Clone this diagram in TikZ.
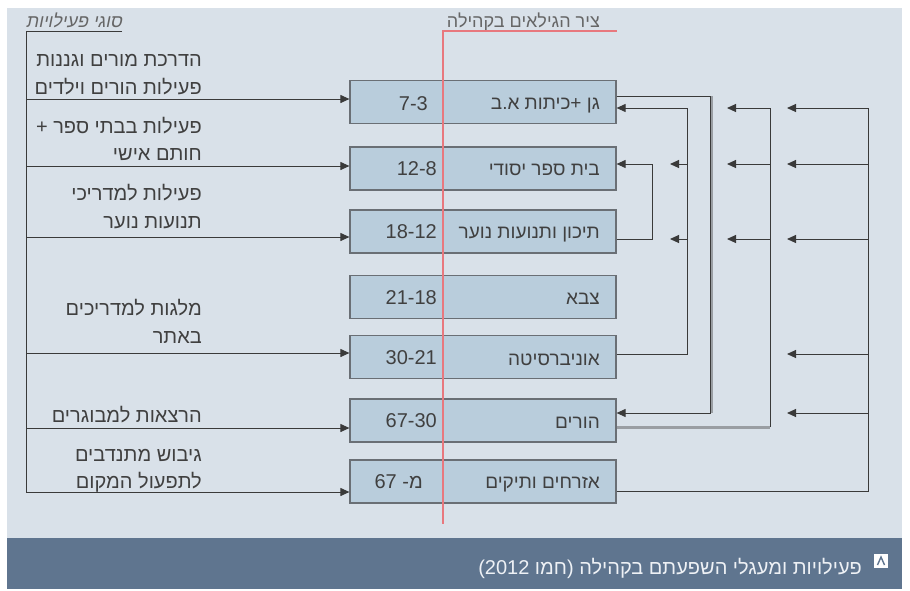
\documentclass[tikz,border=0pt]{standalone}
\usepackage{fontspec}
\setmainfont{Liberation Sans}
\newfontfamily\hebfont[Script=Hebrew]{Liberation Sans}
\newfontfamily\hebslfont[Script=Hebrew,FakeSlant=0.2]{Liberation Sans}
\TeXXeTstate=1
\usetikzlibrary{arrows.meta}
\definecolor{panelbg}{HTML}{D9E1E9}
\definecolor{boxfill}{HTML}{B9CDDC}
\definecolor{boxline}{HTML}{6A6F75}
\definecolor{capbar}{HTML}{5F758F}
\definecolor{captxt}{HTML}{EEF1F5}
\definecolor{inkgray}{HTML}{404040}
\definecolor{linegray}{HTML}{3A3A3A}
\definecolor{softgray}{HTML}{9A9EA3}
\definecolor{axisred}{HTML}{E8787E}
\newcommand{\hebtext}[1]{{\hebfont\beginR #1\endR}}
\newcommand{\hebsltext}[1]{{\hebslfont\beginR #1\endR}}
\tikzset{
  agebox/.style={draw=boxline, line width=1.2pt, fill=boxfill, minimum width=266pt, minimum height=43pt, inner sep=0pt},
  lbl/.style={inner sep=0pt, anchor=base east, text=inkgray, font=\fontsize{20}{22}\selectfont},
  boxlbl/.style={inner sep=0pt, anchor=base east, text=inkgray, font=\fontsize{19}{21}\selectfont},
  numlbl/.style={inner sep=0pt, anchor=base east, text=inkgray, font=\fontsize{20}{22}\selectfont},
  headlbl/.style={inner sep=0pt, anchor=base east, text=inkgray!80, font=\fontsize{18}{20}\selectfont},
  conn/.style={draw=linegray, line width=1pt},
  thickgray/.style={draw=softgray, line width=3pt},
  arr/.style={conn, -{Triangle[length=9pt,width=8pt]}},
}
\begin{document}
\begin{tikzpicture}[x=1pt,y=-1pt]
\useasboundingbox (0,0) rectangle (910,590);
\fill[white] (0,0) rectangle (910,590);
\fill[panelbg] (7,8) rectangle (902,538);
\fill[capbar] (7,538) rectangle (902,589);

% headers
\node[headlbl] (h1) at (122,27) {\hebsltext{סוגי פעילויות}};
\node[headlbl] (h2) at (600,27) {\hebtext{ציר הגילאים בקהילה}};

% boxes
\node[agebox] (b1) at (483,102) {};
\node[agebox] (b2) at (483,168.5) {};
\node[agebox] (b3) at (483,231.5) {};
\node[agebox] (b4) at (483,297) {};
\node[agebox] (b5) at (483,357) {};
\node[agebox] (b6) at (483,420.5) {};
\node[agebox] (b7) at (483,481.5) {};

% numbers
\node[numlbl] (n1) at (428,110) {7-3};
\node[numlbl] (n2) at (437,175) {12-8};
\node[numlbl] (n3) at (437,238) {18-12};
\node[numlbl] (n4) at (437,304) {21-18};
\node[numlbl] (n5) at (437,364) {30-21};
\node[numlbl] (n6) at (437,427) {67-30};
\node[numlbl] (n7) at (423,488) {67 -\hebtext{מ}};

% names
\node[boxlbl] (m1) at (600,109) {\hebtext{גן +כיתות א.ב}};
\node[boxlbl] (m2) at (600,175) {\hebtext{בית ספר יסודי}};
\node[boxlbl] (m3) at (600,238) {\hebtext{תיכון ותנועות נוער}};
\node[boxlbl] (m4) at (600,304) {\hebtext{צבא}};
\node[boxlbl] (m5) at (600,365) {\hebtext{אוניברסיטה}};
\node[boxlbl] (m6) at (600,428) {\hebtext{הורים}};
\node[boxlbl] (m7) at (600,488) {\hebtext{אזרחים ותיקים}};

% left labels
\node[lbl] (t1) at (202,66) {\hebtext{הדרכת מורים וגננות}};
\node[lbl] (t2) at (202,94) {\hebtext{פעילות הורים וילדים}};
\node[lbl] (t3) at (202,133) {\hebtext{פעילות בבתי ספר +}};
\node[lbl] (t4) at (202,160) {\hebtext{חותם אישי}};
\node[lbl] (t5) at (202,200) {\hebtext{פעילות למדריכי}};
\node[lbl] (t6) at (202,228) {\hebtext{תנועות נוער}};
\node[lbl] (t7) at (202,315) {\hebtext{מלגות למדריכים}};
\node[lbl] (t8) at (202,343) {\hebtext{באתר}};
\node[lbl] (t9) at (202,422) {\hebtext{הרצאות למבוגרים}};
\node[lbl] (t10) at (202,461) {\hebtext{גיבוש מתנדבים}};
\node[lbl] (t11) at (202,488) {\hebtext{לתפעול המקום}};

% left connectors
\coordinate (L0) at (26,31);
\coordinate (L1) at (26,99);
\coordinate (L2) at (26,166);
\coordinate (L3) at (26,237);
\coordinate (L5) at (26,353);
\coordinate (L6) at (26,428);
\coordinate (L7) at (26,492);
\draw[conn] (L0 -| h1.east) -- (L0) -- (L7);
\draw[arr] (L1) -- (L1 -| b1.west);
\draw[arr] (L2) -- (L2 -| b2.west);
\draw[arr] (L3) -- (L3 -| b3.west);
\draw[arr] (L5) -- (L5 -| b5.west);
\draw[arr] (L6) -- (L6 -| b6.west);
\draw[arr] (L7) -- (L7 -| b7.west);

% right connectors
\coordinate (r710t) at (710,96);
\coordinate (r710b) at (710,413);
\draw[softgray, line width=1.5pt] ([xshift=2pt]r710t) -- ([xshift=2pt]r710b);
\draw[arr] (b1.east |- r710t) -- (r710t) -- (r710b) -- (r710b -| b6.east);

\coordinate (r687t) at (687,108);
\coordinate (r687b) at (687,354);
\coordinate (r687a) at (687,164);
\coordinate (r687c) at (687,239);
\coordinate (p670a) at (670,164);
\coordinate (p670c) at (670,239);
\draw[arr] (b5.east |- r687b) -- (r687b) -- (r687t) -- (r687t -| b1.east);
\draw[arr] (r687a) -- (p670a);
\draw[arr] (r687c) -- (p670c);

\coordinate (r652t) at (652,164);
\coordinate (r652b) at (652,239);
\draw[arr] (b3.east |- r652b) -- (r652b) -- (r652t) -- (r652t -| b2.east);

\coordinate (r770t) at (770,108);
\coordinate (r770a) at (770,164);
\coordinate (r770c) at (770,239);
\coordinate (r770b) at (770,427);
\coordinate (p727t) at (727,108);
\coordinate (p727a) at (727,164);
\coordinate (p727c) at (727,239);
\draw[thickgray] (b6.east |- r770b) -- (r770b);
\draw[conn] (r770b) -- (r770t);
\draw[arr] (r770t) -- (p727t);
\draw[arr] (r770a) -- (p727a);
\draw[arr] (r770c) -- (p727c);

\coordinate (r868t) at (868,108);
\coordinate (r868a) at (868,164);
\coordinate (r868c) at (868,239);
\coordinate (r868d) at (868,354);
\coordinate (r868e) at (868,413);
\coordinate (r868b) at (868,491);
\coordinate (p787t) at (787,108);
\coordinate (p787a) at (787,164);
\coordinate (p787c) at (787,239);
\coordinate (p787d) at (787,354);
\coordinate (p787e) at (787,413);
\draw[conn] (b7.east |- r868b) -- (r868b) -- (r868t);
\draw[arr] (r868t) -- (p787t);
\draw[arr] (r868a) -- (p787a);
\draw[arr] (r868c) -- (p787c);
\draw[arr] (r868d) -- (p787d);
\draw[arr] (r868e) -- (p787e);

% red age axis
\coordinate (A0) at (443,31);
\coordinate (A1) at (443,524);
\draw[axisred, line width=1.2pt] (A0 -| b1.east) -- (A0) -- (A1);

% caption
\node[inner sep=0pt, anchor=base east, text=captxt, font=\fontsize{20}{22}\selectfont] (cap) at (862,574)
  {(2012 \hebtext{חמו}) \hebtext{פעילויות ומעגלי השפעתם בקהילה}};
\fill[white] (874,554) rectangle (888,568);
\draw[capbar, line width=1.4pt] (877.5,565) -- (881,557) -- (884.5,565);
\end{tikzpicture}
\end{document}
